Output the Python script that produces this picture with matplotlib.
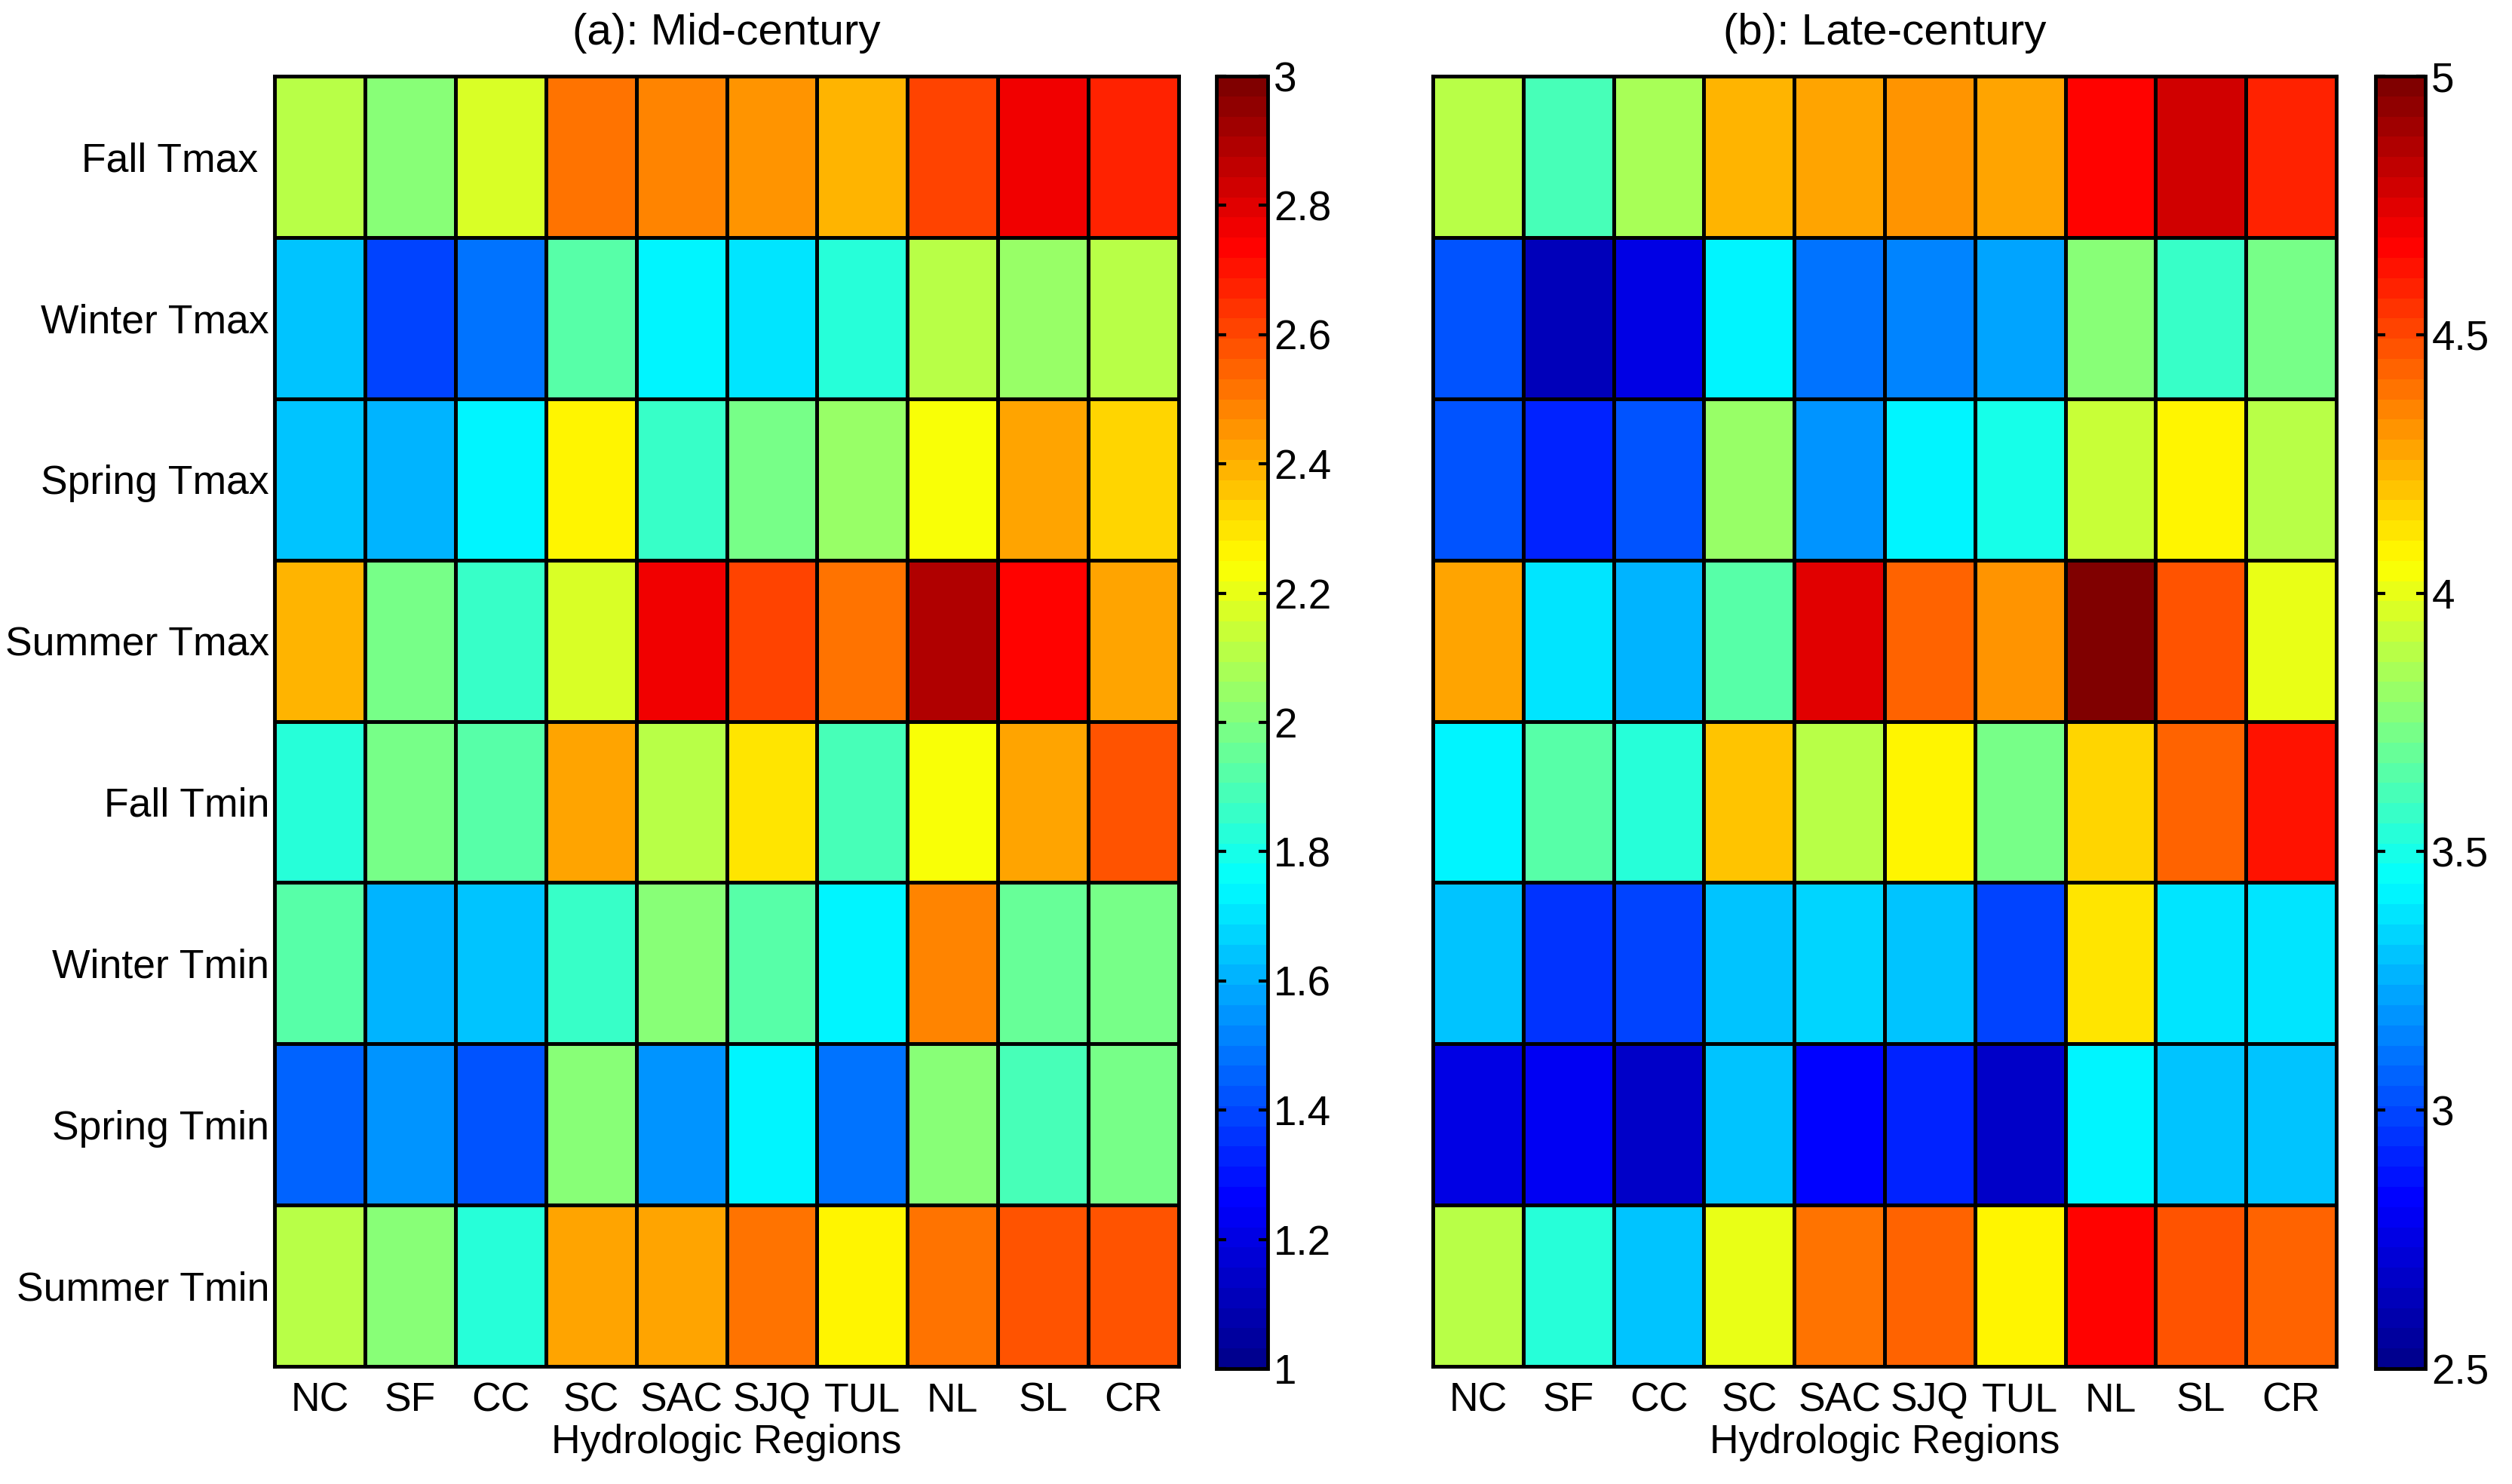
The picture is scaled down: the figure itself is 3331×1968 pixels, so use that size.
import numpy as np
import matplotlib
matplotlib.use('Agg')
import matplotlib.pyplot as plt
from matplotlib.colors import LinearSegmentedColormap
from matplotlib.transforms import ScaledTranslation

plt.rcParams['font.family'] = ['Liberation Sans', 'DejaVu Sans']

regions = ['NC', 'SF', 'CC', 'SC', 'SAC', 'SJQ', 'TUL', 'NL', 'SL', 'CR']
seasons = ['Fall Tmax', 'Winter Tmax', 'Spring Tmax', 'Summer Tmax',
           'Fall Tmin', 'Winter Tmin', 'Spring Tmin', 'Summer Tmin']

mid = [[2.12, 2.00, 2.18, 2.52, 2.49, 2.44, 2.38, 2.62, 2.78, 2.68],
       [1.65, 1.38, 1.47, 1.92, 1.72, 1.69, 1.83, 2.12, 2.04, 2.12],
       [1.64, 1.60, 1.72, 2.25, 1.85, 1.97, 2.06, 2.24, 2.42, 2.32],
       [2.38, 1.97, 1.87, 2.18, 2.78, 2.60, 2.50, 2.88, 2.72, 2.42],
       [1.83, 1.97, 1.93, 2.42, 2.12, 2.30, 1.90, 2.22, 2.42, 2.58],
       [1.92, 1.60, 1.63, 1.87, 2.00, 1.93, 1.73, 2.48, 1.95, 1.98],
       [1.45, 1.55, 1.42, 2.02, 1.55, 1.72, 1.48, 2.00, 1.90, 1.98],
       [2.10, 2.02, 1.83, 2.42, 2.41, 2.52, 2.25, 2.53, 2.58, 2.57]]

late = [[3.88, 3.60, 3.85, 4.22, 4.27, 4.30, 4.27, 4.68, 4.80, 4.58],
        [3.03, 2.65, 2.75, 3.40, 3.10, 3.13, 3.23, 3.75, 3.58, 3.72],
        [3.03, 2.90, 3.03, 3.80, 3.20, 3.40, 3.50, 3.92, 4.07, 3.90],
        [4.28, 3.38, 3.25, 3.65, 4.75, 4.45, 4.30, 4.97, 4.47, 4.02],
        [3.40, 3.65, 3.55, 4.20, 3.90, 4.07, 3.72, 4.15, 4.42, 4.62],
        [3.30, 2.93, 2.97, 3.30, 3.33, 3.30, 3.00, 4.12, 3.37, 3.36],
        [2.77, 2.80, 2.67, 3.30, 2.83, 2.90, 2.67, 3.40, 3.30, 3.32],
        [3.88, 3.55, 3.30, 4.00, 4.38, 4.42, 4.07, 4.65, 4.48, 4.42]]

ticks_a = [1, 1.2, 1.4, 1.6, 1.8, 2, 2.2, 2.4, 2.6, 2.8, 3]
ticks_b = [2.5, 3, 3.5, 4, 4.5, 5]

W, H = 3331, 1968
FS = 38.5

# matlab style jet, 64 steps
jet = LinearSegmentedColormap.from_list(
    'mjet',
    [(0, (0, 0, 0.5625)), (0.125, (0, 0, 1)), (0.375, (0, 1, 1)),
     (0.625, (1, 1, 0)), (0.875, (1, 0, 0)), (1, (0.5, 0, 0))], N=64)


def box(x0, x1, y0, y1):
    return [x0 / W, 1 - y1 / H, (x1 - x0) / W, (y1 - y0) / H]


def panel(data, title, vmin, vmax, ticks, x0, x1, cx0, cx1, show_y):
    ax = fig.add_axes(box(x0, x1, 101, 1812))
    pc = ax.pcolormesh(np.array(data), cmap=jet, vmin=vmin, vmax=vmax,
                       edgecolors='k', linewidth=3.5)
    ax.set_ylim(8, 0)
    ax.set_xlim(0, 10)
    ax.set_xticks(np.arange(10) + 0.5)
    ax.set_xticklabels(regions)
    ax.set_yticks(np.arange(8) + 0.5)
    ax.set_yticklabels(seasons if show_y else [])
    ax.tick_params(length=0, labelsize=FS)
    ax.tick_params(axis='x', pad=15)
    ax.tick_params(axis='y', pad=5)
    if show_y:
        # first label sits further from the axis in the original
        lab = ax.get_yticklabels()[0]
        lab.set_transform(lab.get_transform() +
                          ScaledTranslation(-15 / 100, 0, fig.dpi_scale_trans))
    for s in ax.spines.values():
        s.set_linewidth(3.5)
    ax.set_xlabel('Hydrologic Regions', fontsize=FS, labelpad=4)
    ax.set_title(title, fontsize=42, pad=30)

    cax = fig.add_axes(box(cx0, cx1, 101, 1815))
    cb = fig.colorbar(pc, cax=cax)
    cb.set_ticks(ticks)
    cb.set_ticklabels(['%g' % t for t in ticks])
    cax.tick_params(axis='y', direction='in', left=True, right=True,
                    length=9, width=3, labelsize=FS + 1, pad=6)
    cb.outline.set_linewidth(3.5)


fig = plt.figure(figsize=(W / 100, H / 100), dpi=100)
panel(mid, '(a): Mid-century', 1, 3, ticks_a, 364, 1563, 1613, 1681, True)
panel(late, '(b): Late-century', 2.5, 5, ticks_b, 1900, 3098, 3150, 3216, False)
fig.savefig('out.png', dpi=100)
